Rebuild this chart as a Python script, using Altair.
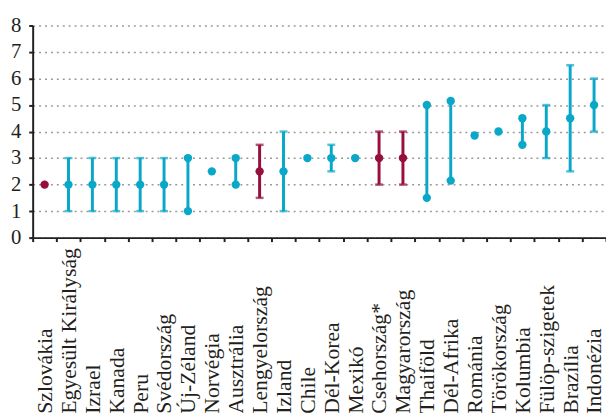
import altair as alt
import pandas as pd

countries = ["Szlovákia", "Egyesült Királyság", "Izrael", "Kanada", "Peru", "Svédország",
             "Új-Zéland", "Norvégia", "Ausztrália", "Lengyelország", "Izland", "Chile",
             "Dél-Korea", "Mexikó", "Csehország*", "Magyarország", "Thaiföld", "Dél-Afrika",
             "Románia", "Törökország", "Kolumbia", "Fülöp-szigetek", "Brazília", "Indonézia"]
center = [2, 2, 2, 2, 2, 2, None, 2.5, None, 2.5, 2.5, 3,
          3, 3, 3, 3, None, None, 3.85, 4, None, 4, 4.5, 5]
low = [None, 1, 1, 1, 1, 1, 1, None, 2, 1.5, 1, None,
       2.5, None, 2, 2, 1.5, 2.15, None, None, 3.5, 3, 2.5, 4]
high = [None, 3, 3, 3, 3, 3, 3, None, 3, 3.5, 4, None,
        3.5, None, 4, 4, 5, 5.15, None, None, 4.5, 5, 6.5, 6]
capped = [False, True, True, True, True, True, False, False, False, True, True, False,
          True, False, True, True, False, False, False, False, False, True, True, True]
highlight = ["Szlovákia", "Lengyelország", "Csehország*", "Magyarország"]
y_ticks = [0, 1, 2, 3, 4, 5, 6, 7, 8]

TEAL = "#0aa8c8"
RED = "#970f3c"
INK = "#231f20"
FONT = "Liberation Serif"

rows = []
for i, c in enumerate(countries):
    rows.append({"country": c, "center": center[i], "low": low[i], "high": high[i],
                 "capped": capped[i], "grp": "hl" if c in highlight else "base"})
df = pd.DataFrame(rows)

ends = []
for r in rows:
    if r["low"] is not None:
        ends.append({"country": r["country"], "value": r["low"], "capped": r["capped"], "grp": r["grp"]})
        ends.append({"country": r["country"], "value": r["high"], "capped": r["capped"], "grp": r["grp"]})
ends_df = pd.DataFrame(ends)

xaxis = alt.Axis(title=None, labelAngle=270, labelAlign="left", labelBaseline="middle",
                 labelPadding=174, labelFont=FONT, labelFontSize=22,
                 labelColor=INK, tickBand="extent", tickSize=4, tickWidth=2,
                 tickColor=INK, domainColor=INK, domainWidth=2, grid=False,
                 labelOverlap=False)
xscale = alt.Scale(type="band", paddingInner=0, paddingOuter=0)
yscale = alt.Scale(domain=[0, 8], nice=False, zero=True)
yaxis = alt.Axis(title=None, values=y_ticks, labelFont=FONT, labelOverlap=False,
                 labelFontSize=21, labelColor=INK, labelPadding=8, tickSize=4, tickWidth=2,
                 tickColor=INK, domainColor=INK, domainWidth=2, grid=True,
                 gridColor="#9a9a9a", gridDash=[2, 4], gridWidth=1.5)
color = alt.Color("grp:N", scale=alt.Scale(domain=["base", "hl"], range=[TEAL, RED]), legend=None)


def X():
    return alt.X("country:N", sort=countries, scale=xscale, axis=xaxis)


def Y(field):
    return alt.Y(field, scale=yscale, axis=yaxis)


rules = alt.Chart(df).transform_filter("datum.low != null").mark_rule(strokeWidth=3).encode(
    x=X(), y=Y("low:Q"), y2="high:Q", color=color)

caps = alt.Chart(ends_df).transform_filter("datum.capped").mark_tick(
    orient="horizontal", size=8, thickness=2.5).encode(
    x=X(), y=Y("value:Q"), color=color)

enddots = alt.Chart(ends_df).transform_filter("!datum.capped").mark_circle(size=72, opacity=1).encode(
    x=X(), y=Y("value:Q"), color=color)

dots = alt.Chart(df).transform_filter("datum.center != null").mark_circle(size=72, opacity=1).encode(
    x=X(), y=Y("center:Q"), color=color)

chart = alt.layer(rules, caps, enddots, dots).properties(
    width=581, height=215,
    autosize=alt.AutoSizeParams(type="none"),
    padding={"left": 25, "top": 15, "right": 0, "bottom": 175},
).configure_view(stroke=None)

chart.save("out.html", embed_options={"renderer": "svg", "actions": False})
